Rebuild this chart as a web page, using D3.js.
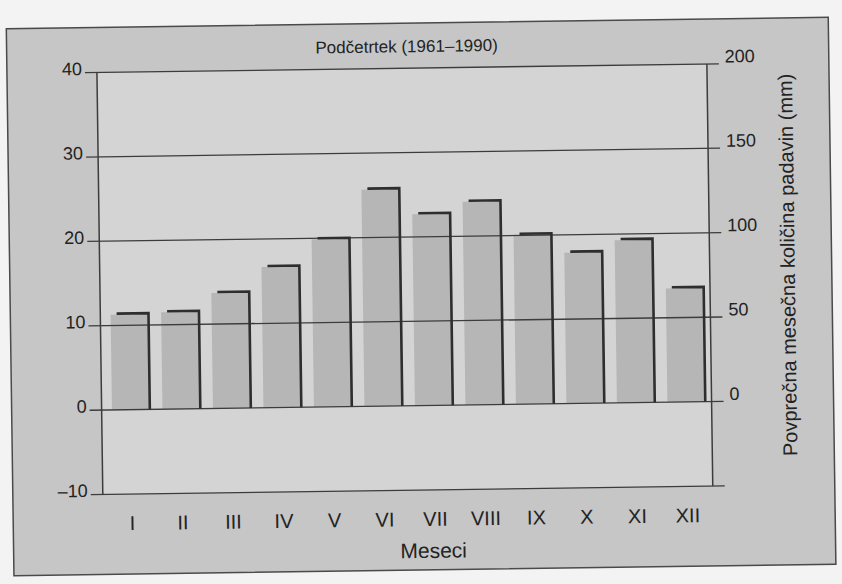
<!DOCTYPE html>
<html>
<head>
<meta charset="utf-8">
<script src="https://cdn.jsdelivr.net/npm/d3@7"></script>
<style>
  body { margin: 0; background: #f3f3f3; }
  svg { display: block; }
  text { font-family: "Liberation Sans", Arial, sans-serif; fill: #232323; }
</style>
</head>
<body>
<div id="chart"></div>
<script>
// data
var months = ["I", "II", "III", "IV", "V", "VI", "VII", "VIII", "IX", "X", "XI", "XII"];
var precip = [57, 58, 69, 84, 100, 129, 114, 121, 101, 90, 97, 68];   // mm
var tempTicks = [-10, 0, 10, 20, 30, 40];
var precipTicks = [0, 50, 100, 150, 200];

var W = 842, H = 584;
var svg = d3.select("#chart").append("svg")
    .attr("width", W)
    .attr("height", H);

// the photo is a little tilted, so tilt the whole page
var g = svg.append("g").attr("transform", "rotate(-0.8, 421, 290)");

var left = 100, right = 710;

var y = d3.scaleLinear().domain([-10, 40]).range([490, 68]);
var yR = d3.scaleLinear().domain([0, 200]).range([y(0), y(40)]);
var x = d3.scaleBand().domain(months).range([104, 710])
    .paddingInner(0.25).paddingOuter(0.125);

// outer frame
g.append("rect")
    .attr("x", 10).attr("y", 23)
    .attr("width", 822).attr("height", 547)
    .attr("fill", "#c6c6c6")
    .attr("stroke", "#4a4a4a")
    .attr("stroke-width", 1.5);

// plot area
g.append("rect")
    .attr("x", left).attr("y", y(40))
    .attr("width", right - left).attr("height", y(-10) - y(40))
    .attr("fill", "#d4d4d4");

// bars
g.selectAll(".bar").data(precip).enter().append("rect")
    .attr("class", "bar")
    .attr("x", function (d, i) { return x(months[i]); })
    .attr("y", function (d) { return yR(d) + 1; })
    .attr("width", x.bandwidth())
    .attr("height", function (d) { return y(0) - yR(d) - 1; })
    .attr("fill", "#b6b6b6");

// horizontal lines, drawn over the bars like in the print
g.selectAll(".grid").data(tempTicks).enter().append("line")
    .attr("class", "grid")
    .attr("x1", left - 12).attr("x2", right + 12)
    .attr("y1", function (d) { return y(d); })
    .attr("y2", function (d) { return y(d); })
    .attr("stroke", "#3c3c3c")
    .attr("stroke-width", 1.3);

g.selectAll(".edge").data(precip).enter().append("path")
    .attr("class", "edge")
    .attr("d", function (d, i) {
        var x0 = x(months[i]), x1 = x0 + x.bandwidth();
        return "M" + (x0 + 6) + "," + yR(d) + "H" + x1 + "V" + y(0);
    })
    .attr("fill", "none")
    .attr("stroke", "#2e2e2e")
    .attr("stroke-width", 2.6);

// vertical axis lines
g.append("line")
    .attr("x1", left).attr("x2", left)
    .attr("y1", y(40)).attr("y2", y(-10))
    .attr("stroke", "#3c3c3c").attr("stroke-width", 1.5);
g.append("line")
    .attr("x1", right).attr("x2", right)
    .attr("y1", y(40)).attr("y2", y(-10))
    .attr("stroke", "#3c3c3c").attr("stroke-width", 1.5);

// left axis (temperature)
var axL = g.append("g")
    .attr("transform", "translate(" + left + ",0)")
    .call(d3.axisLeft(y).tickValues(tempTicks).tickSize(12).tickPadding(3)
        .tickFormat(function (d) { return d < 0 ? "\u2013" + Math.abs(d) : d; }));
axL.select(".domain").remove();
axL.selectAll("line").remove();
axL.selectAll("text").attr("font-size", 18).attr("dy", "0.1em");

// right axis (precipitation)
var axR = g.append("g")
    .attr("transform", "translate(" + right + ",0)")
    .call(d3.axisRight(yR).tickValues(precipTicks).tickSize(12).tickPadding(6));
axR.select(".domain").remove();
axR.selectAll("line").remove();
axR.selectAll("text").attr("font-size", 18).attr("dy", "-0.1em");

// month labels
g.selectAll(".month").data(months).enter().append("text")
    .attr("class", "month")
    .attr("x", function (d) { return x(d) + x.bandwidth() / 2; })
    .attr("y", 526)
    .attr("text-anchor", "middle")
    .attr("font-size", 20)
    .text(function (d) { return d; });

g.append("text")
    .attr("x", 430).attr("y", 558)
    .attr("text-anchor", "middle")
    .attr("font-size", 21)
    .text("Meseci");

g.append("text")
    .attr("x", 410).attr("y", 52)
    .attr("text-anchor", "middle")
    .attr("font-size", 17)
    .text("Podčetrtek (1961–1990)");

g.append("text")
    .attr("transform", "translate(795,270) rotate(-90)")
    .attr("text-anchor", "middle")
    .attr("font-size", 20)
    .text("Povprečna mesečna količina padavin (mm)");
</script>
</body>
</html>
